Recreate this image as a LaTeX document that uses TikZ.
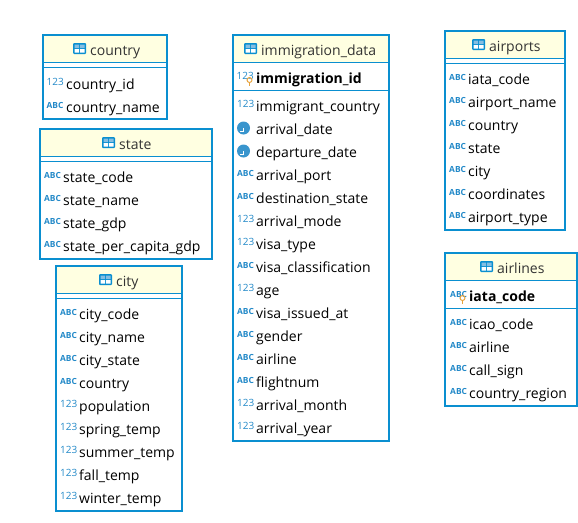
\documentclass[tikz,border=0pt]{standalone}
\usepackage{fontspec}
\setmainfont{Open Sans}
\definecolor{tblblue}{HTML}{0A8FD0}
\definecolor{iconblue}{HTML}{2389C8}
\definecolor{hdryellow}{HTML}{FFFFE1}
\definecolor{keyorange}{HTML}{E8A33D}
\tikzset{
  tblborder/.style={tblblue,line width=2pt},
  tblline/.style={tblblue,line width=1pt},
  tbltitle/.style={anchor=base west,inner sep=0pt,text=black!80,font=\fontsize{14}{16}\selectfont},
  coltxt/.style={anchor=base west,inner sep=0pt,text=black,font=\fontsize{14}{16}\selectfont},
  pkeytxt/.style={coltxt,font=\fontsize{14}{16}\selectfont\bfseries},
  numicon/.style={anchor=base west,inner sep=0pt,text=iconblue,font=\fontsize{10}{10}\selectfont,node contents={123}},
  abcicon/.style={anchor=base west,inner sep=0pt,text=iconblue,font=\fontsize{8.4}{10}\selectfont\bfseries,node contents={ABC}},
  clockicon/.style={anchor=center,circle,inner sep=0pt,minimum size=13pt,fill=iconblue!90,xshift=6.5pt,yshift=2pt,node contents={},
    path picture={\draw[white,line width=1pt] (path picture bounding box.center) -- ++(0,-3.5pt) -- ++(-3.5pt,0);}},
  pics/tblicon/.style={code={
    \fill[tblblue,rounded corners=1pt] (-17,-12) rectangle (-4,-1);
    \fill[white] (-15.5,-6) rectangle (-11,-2.5) (-10,-6) rectangle (-5.5,-2.5);
    \fill[iconblue!55] (-15.5,-10.5) rectangle (-11,-7) (-10,-10.5) rectangle (-5.5,-7);
  }},
  pics/keyicon/.style={code={
    \draw[keyorange,line width=1pt] (0,0) circle (2.5);
    \draw[keyorange,line width=1.2pt] (0,2.5) -- (0,6);
  }},
}
\begin{document}
\begin{tikzpicture}[x=1pt,y=-1pt]
    \useasboundingbox (0,0) rectangle (578,522);

    % country
    \fill[hdryellow] (43,35) rectangle (167,62);
    \draw[tblline] (43,62) -- (167,62) (43,67) -- (167,67);
    \node[tbltitle] (country) at (90,55) {country};
    \path (country.base west) pic {tblicon};
    \draw[tblborder] (43,35) rectangle (167,119);
    \foreach \y/\ic/\txt in {84/numicon/country\_id,107/abcicon/country\_name} {
      \node (country-i\y) at (46.5,\y+1) [\ic];
      \node[coltxt] (country-\y) at (66,\y+5.5) {\txt};
    }

    % state
    \fill[hdryellow] (40,129) rectangle (212,156);
    \draw[tblline] (40,156) -- (212,156) (40,161) -- (212,161);
    \node[tbltitle] (state) at (119,149) {state};
    \path (state.base west) pic {tblicon};
    \draw[tblborder] (40,129) rectangle (212,259);
    \foreach \y/\txt in {177/state\_code,200/state\_name,223/state\_gdp,246/state\_per\_capita\_gdp} {
      \node (state-i\y) at (44,\y+1) [abcicon];
      \node[coltxt] (state-\y) at (63,\y+5.5) {\txt};
    }

    % city
    \fill[hdryellow] (56,266) rectangle (182,293);
    \draw[tblline] (56,293) -- (182,293) (56,298) -- (182,298);
    \node[tbltitle] (city) at (116,286) {city};
    \path (city.base west) pic {tblicon};
    \draw[tblborder] (56,266) rectangle (182,511);
    \foreach \y/\ic/\txt in {314/abcicon/city\_code,337/abcicon/city\_name,360/abcicon/city\_state,
      383/abcicon/country,406/numicon/population,429/numicon/spring\_temp,452/numicon/summer\_temp,
      475/numicon/fall\_temp,498/numicon/winter\_temp} {
      \node (city-i\y) at (60,\y+1) [\ic];
      \node[coltxt] (city-\y) at (79,\y+5.5) {\txt};
    }

    % immigration_data
    \fill[hdryellow] (233,35) rectangle (389,62);
    \draw[tblline] (233,62) -- (389,62) (233,90) -- (389,90);
    \node[tbltitle] (immigration) at (261,55) {immigration\_data};
    \path (immigration.base west) pic {tblicon};
    \draw[tblborder] (233,35) rectangle (389,441);
    \node (immigration-i78) at (236.5,79) [numicon];
    \path (249.5,80) pic {keyicon};
    \node[pkeytxt] (immigration-78) at (256,83.5) {immigration\_id};
    \foreach \y/\ic/\txt in {106/numicon/immigrant\_country,129/clockicon/arrival\_date,152/clockicon/departure\_date,
      175/abcicon/arrival\_port,198/abcicon/destination\_state,221/numicon/arrival\_mode,244/numicon/visa\_type,
      267/abcicon/visa\_classification,290/numicon/age,313/abcicon/visa\_issued\_at,336/abcicon/gender,
      359/abcicon/airline,382/abcicon/flightnum,405/numicon/arrival\_month,428/numicon/arrival\_year} {
      \node (immigration-i\y) at (237,\y+1) [\ic];
      \node[coltxt] (immigration-\y) at (256,\y+5.5) {\txt};
    }

    % airports
    \fill[hdryellow] (445,31) rectangle (565,58);
    \draw[tblline] (445,58) -- (565,58) (445,63) -- (565,63);
    \node[tbltitle] (airports) at (489,51) {airports};
    \path (airports.base west) pic {tblicon};
    \draw[tblborder] (445,31) rectangle (565,230);
    \foreach \y/\txt in {79/iata\_code,102/airport\_name,125/country,148/state,171/city,194/coordinates,217/airport\_type} {
      \node (airports-i\y) at (449,\y+1) [abcicon];
      \node[coltxt] (airports-\y) at (468,\y+5.5) {\txt};
    }

    % airlines
    \fill[hdryellow] (445,253) rectangle (577,280);
    \draw[tblline] (445,280) -- (577,280) (445,308) -- (577,308);
    \node[tbltitle] (airlines) at (497,273) {airlines};
    \path (airlines.base west) pic {tblicon};
    \draw[tblborder] (445,253) rectangle (577,406);
    \node (airlines-i296) at (450,297) [abcicon];
    \path (462.5,298) pic {keyicon};
    \node[pkeytxt] (airlines-296) at (469,301.5) {iata\_code};
    \foreach \y/\txt in {324/icao\_code,347/airline,370/call\_sign,393/country\_region} {
      \node (airlines-i\y) at (450,\y+1) [abcicon];
      \node[coltxt] (airlines-\y) at (469,\y+5.5) {\txt};
    }
\end{tikzpicture}
\end{document}
